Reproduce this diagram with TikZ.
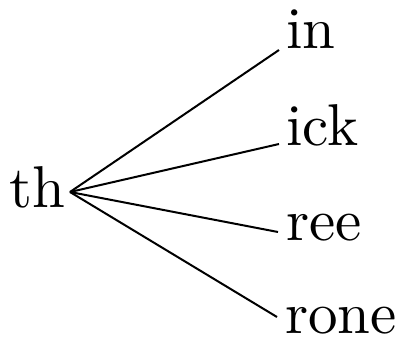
\documentclass[tikz,border=0pt]{standalone}
\usepackage{fontspec}
% the 10pt design of Latin Modern, kept at every size for its heavier strokes
\newfontfamily\wordfont[Extension=.otf]{lmroman10-regular}
\begin{document}
\begin{tikzpicture}[x=1pt,y=-1pt,
  word/.style={anchor=base west,inner sep=0pt,font=\wordfont\fontsize{59}{70}\selectfont},
  branch/.style={line width=2pt}]
\useasboundingbox (0,0) rectangle (404,343);
% root and leaves
\node[word] (th) at (9,207) {th};
\node[word] (in) at (286,48) {in};
\node[word] (ick) at (286,145) {ick};
\node[word] (ree) at (286,240) {ree};
\node[word] (rone) at (285,333) {rone};
% branch end points
\coordinate (r) at (70,192);
\coordinate (e1) at (279,50);
\coordinate (e2) at (279,144);
\coordinate (e3) at (278,232);
\coordinate (e4) at (277,317);
\draw[branch] (r) -- (e1);
\draw[branch] (r) -- (e2);
\draw[branch] (r) -- (e3);
\draw[branch] (r) -- (e4);
\end{tikzpicture}
\end{document}
